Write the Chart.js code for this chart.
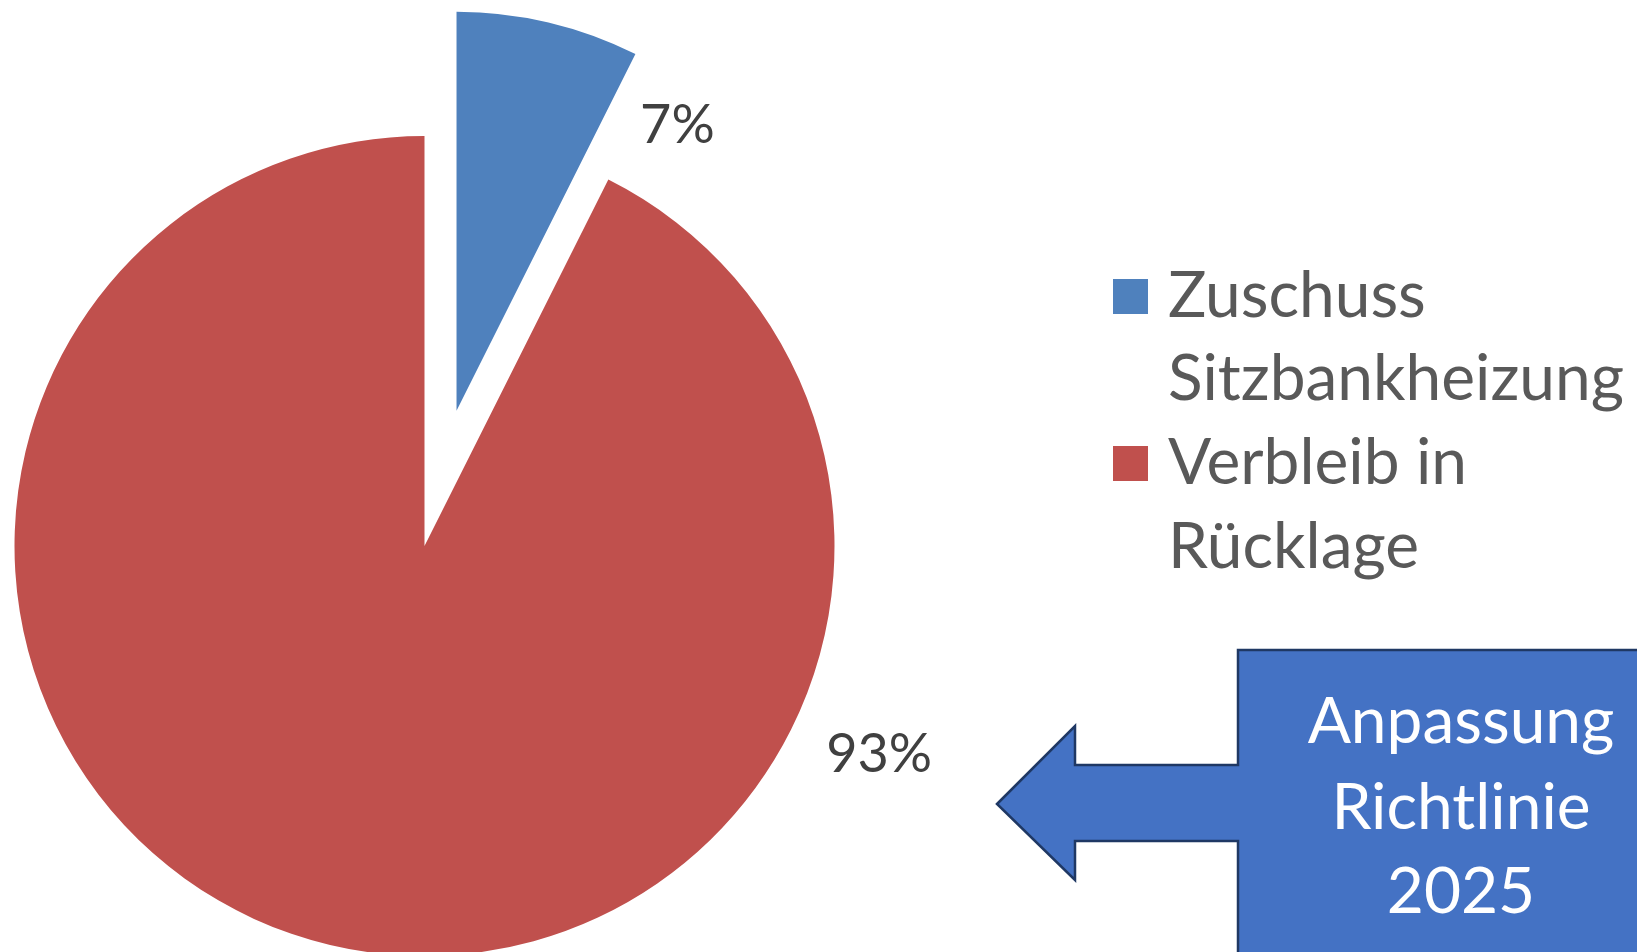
<!DOCTYPE html>
<html>
<head>
<meta charset="utf-8">
<script src="https://cdn.jsdelivr.net/npm/chart.js@4/dist/chart.umd.min.js"></script>
<style>
    html, body { margin: 0; padding: 0; background: #ffffff; overflow: hidden; }
    /* Canvas is wider than the window and shifted left, so the pie centre sits far left of the legend */
    canvas { display: block; margin-left: -252px; }
</style>
</head>
<body>
<canvas id="pieChart" width="1889" height="952"></canvas>
<script>
// Kategorien (mehrzeilig wie im Original) und Anteile in Prozent
const categories = [['Zuschuss', 'Sitzbankheizung'], ['Verbleib in', 'Rücklage']];
const shares = [7.4, 92.6];
const sliceColors = ['#4F81BD', '#C0504D'];
const explodeBy = [139, 0];
const shrinkBy = [11, 0];

// Hinweis-Kasten rechts unten
const noteLines = ['Anpassung', 'Richtlinie', '2025'];

// Lage der Prozentangaben: Winkel (Grad ab 12 Uhr) und Abstand ausserhalb des Kreises
const labelSpots = [
    { angle: 31, gap: 81 },
    { angle: 114.6, gap: 90 }
];

const SHIFT = 252;

// Legendenquadrate: 35px, rechtsbuendig in einer 59px breiten Grafik
function swatch(color) {
    const c = document.createElement('canvas');
    c.width = 59;
    c.height = 35;
    const g = c.getContext('2d');
    g.fillStyle = color;
    g.fillRect(24, 0, 35, 35);
    return c;
}
const swatches = sliceColors.map(swatch);

// herausgezogenes Segment wie in Excel: verschieben statt vergroessern
const explode = {
    id: 'explode',
    beforeDatasetDraw(chart, args) {
        const ctx = chart.ctx;
        args.meta.data.forEach(function (arc, i) {
            const mid = (arc.startAngle + arc.endAngle) / 2;
            const r = arc.outerRadius;
            ctx.save();
            ctx.translate(Math.cos(mid) * explodeBy[i], Math.sin(mid) * explodeBy[i]);
            arc.outerRadius = r - shrinkBy[i];
            arc.draw(ctx, chart.chartArea);
            arc.outerRadius = r;
            ctx.restore();
        });
        return false;
    }
};

const percentLabels = {
    id: 'percentLabels',
    afterDatasetsDraw(chart) {
        const ctx = chart.ctx;
        const meta = chart.getDatasetMeta(0);
        ctx.save();
        ctx.font = '54px Lato';
        ctx.fillStyle = '#404040';
        ctx.textAlign = 'center';
        ctx.textBaseline = 'middle';
        meta.data.forEach(function (arc, i) {
            const spot = labelSpots[i];
            const a = (spot.angle - 90) * Math.PI / 180;
            const r = arc.outerRadius + spot.gap;
            const text = Math.round(chart.data.datasets[0].data[i]) + '%';
            ctx.fillText(text, arc.x + Math.cos(a) * r, arc.y + Math.sin(a) * r);
        });
        ctx.restore();
    }
};

const noteArrow = {
    id: 'noteArrow',
    afterDraw(chart) {
        const ctx = chart.ctx;
        ctx.save();
        ctx.translate(SHIFT, 0);
        ctx.beginPath();
        ctx.moveTo(997, 804);
        ctx.lineTo(1075, 726);
        ctx.lineTo(1075, 765);
        ctx.lineTo(1238, 765);
        ctx.lineTo(1238, 650);
        ctx.lineTo(1660, 650);
        ctx.lineTo(1660, 970);
        ctx.lineTo(1238, 970);
        ctx.lineTo(1238, 841);
        ctx.lineTo(1075, 841);
        ctx.lineTo(1075, 880);
        ctx.closePath();
        ctx.fillStyle = '#4472C4';
        ctx.fill();
        ctx.lineWidth = 2.5;
        ctx.strokeStyle = '#1F3864';
        ctx.stroke();

        ctx.font = '64px Lato';
        ctx.fillStyle = '#ffffff';
        ctx.textAlign = 'center';
        ctx.textBaseline = 'alphabetic';
        const baselines = [743, 829, 913];
        noteLines.forEach(function (line, i) {
            ctx.fillText(line, 1461, baselines[i]);
        });
        ctx.restore();
    }
};

const config = {
    type: 'pie',
    data: {
        labels: categories,
        datasets: [{
            data: shares,
            backgroundColor: sliceColors,
            borderWidth: 0,
            hoverOffset: 0
        }]
    },
    options: {
        responsive: false,
        animation: false,
        events: [],
        radius: 410,
        layout: {
            padding: { left: 0, top: 264, bottom: 124, right: 3 }
        },
        plugins: {
            legend: {
                position: 'right',
                align: 'start',
                labels: {
                    usePointStyle: true,
                    pointStyleWidth: 35,
                    boxWidth: 35,
                    boxHeight: 35,
                    padding: 0,
                    color: '#595959',
                    font: { family: 'Lato', size: 64, lineHeight: 1.31 },
                    generateLabels: function (chart) {
                        const items = Chart.overrides.pie.plugins.legend.labels.generateLabels(chart);
                        items.forEach(function (item, i) { item.pointStyle = swatches[i]; });
                        return items;
                    }
                }
            },
            tooltip: { enabled: false }
        }
    },
    plugins: [explode, percentLabels, noteArrow]
};

new Chart(document.getElementById('pieChart'), config);
</script>
</body>
</html>
